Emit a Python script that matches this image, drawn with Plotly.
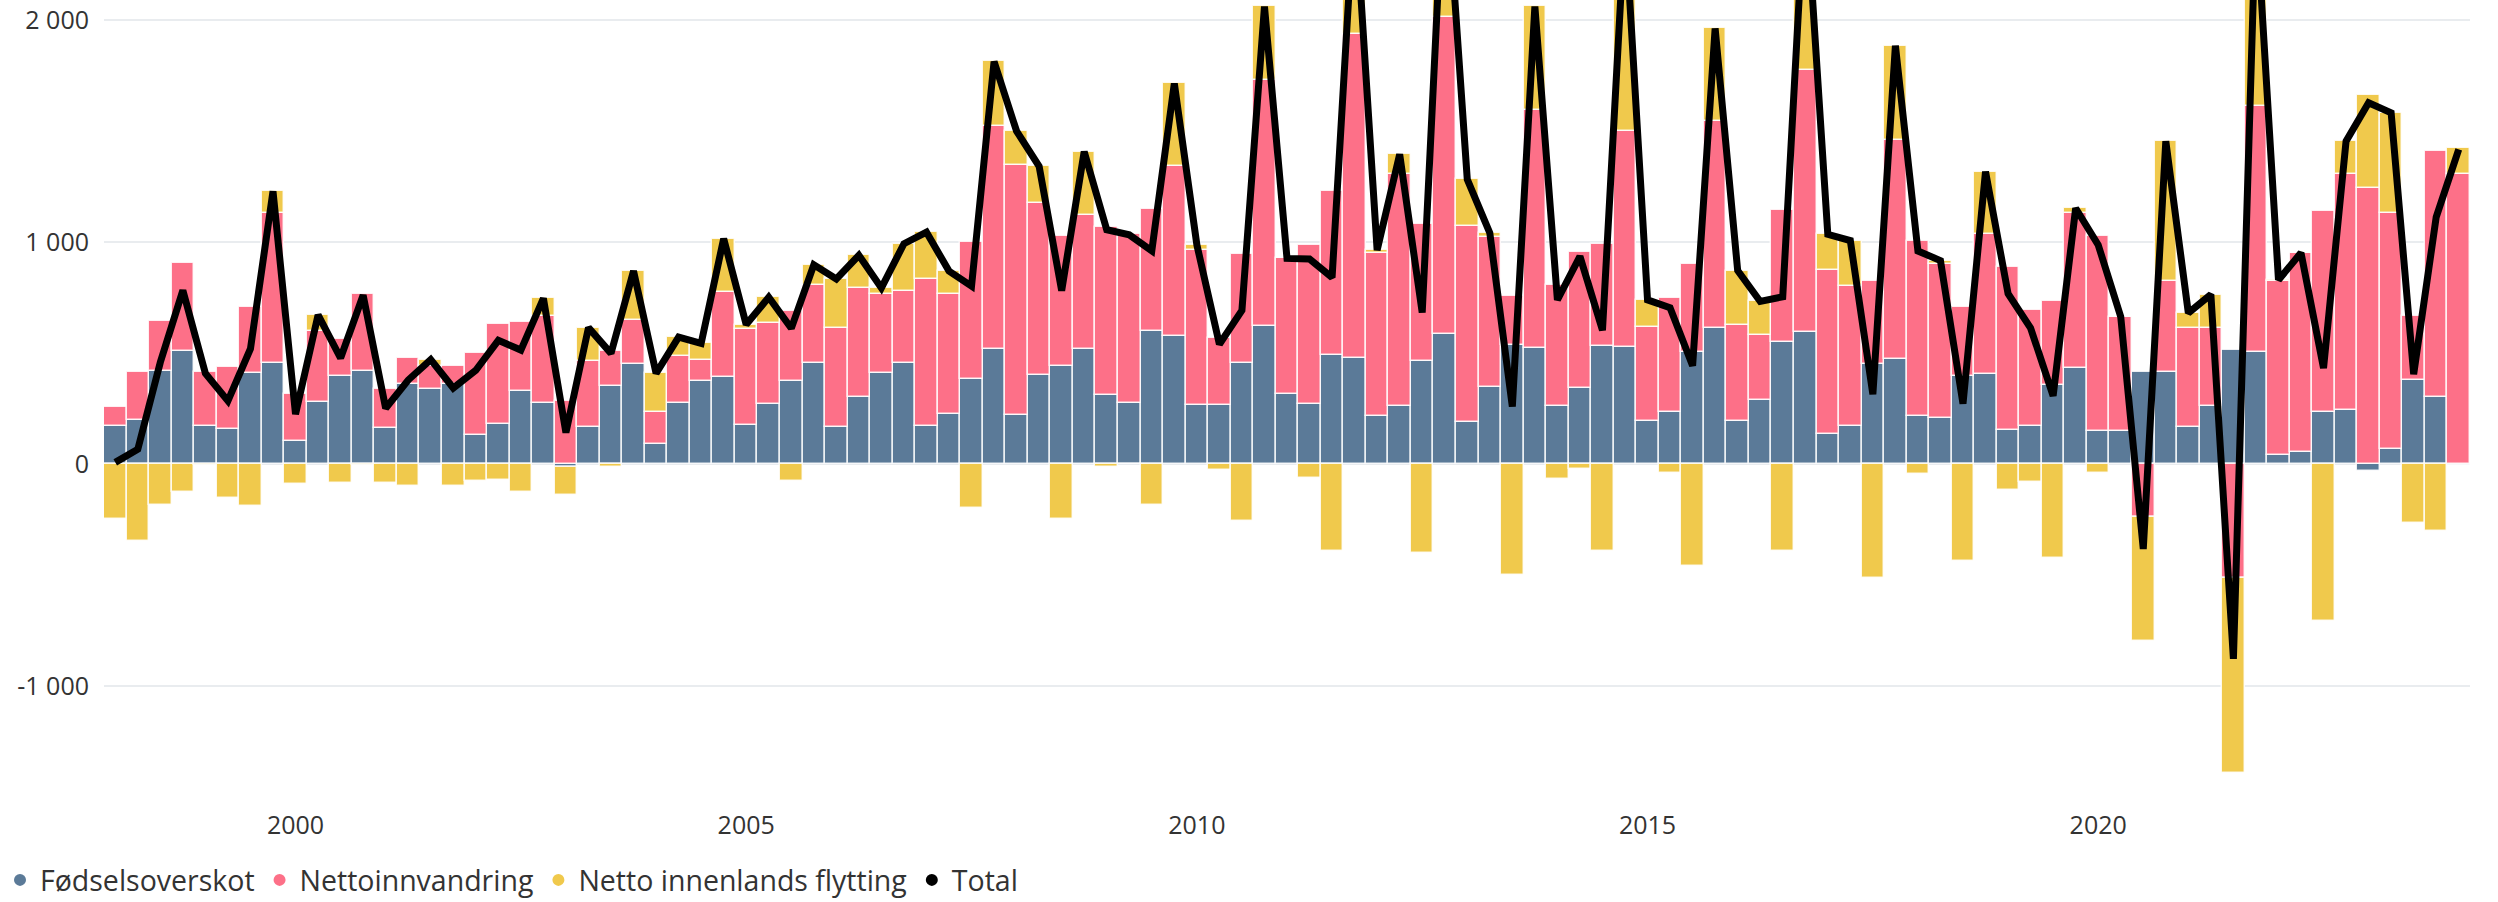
import plotly.graph_objects as go

# Quarterly periods from 1998 Q1 (position in decimal years at quarter start)
n_quarters = 105
quarters = [1998 + 0.25 * i for i in range(n_quarters)]

fodselsoverskot = [
    172, 196, 420, 508, 172, 156, 411, 453, 102, 279, 394, 418, 161,
    361, 338, 360, 132, 179, 328, 274, -12, 165, 352, 449, 90, 274,
    373, 390, 177, 272, 373, 453, 165, 302, 411, 453, 170, 227, 382,
    519, 222, 401, 439, 519, 312, 274, 600, 578, 267, 267, 453, 621,
    314, 272, 489, 477, 215, 260, 463, 586, 191, 345, 534, 522, 260, 342,
    531, 529, 194, 236, 503, 611, 194, 286, 548, 593, 137, 172, 451,
    472, 215, 208, 397, 404, 153, 172, 357, 432, 149, 149, 413, 413, 165,
    262, 515, 503, 42, 54, 236, 243, -33, 66, 380, 302, -7,
]

nettoinnvandring = [
    83, 217, 222, 399, 241, 281, 297, 676, 214, 318, 168, 349, 177,
    118, 105, 83, 368, 451, 312, 394, 283, 298, 158, 198, 146, 212,
    94, 384, 432, 361, 314, 352, 449, 491, 356, 326, 663, 540, 617,
    1004, 1124, 775, 590, 602, 755, 760, 547, 763, 696, 300, 494, 1110,
    612, 715, 741, 1461, 736, 1046, 618, 1428, 879, 677, 224, 1074, 545, 614,
    461, 970, 425, 510, 399, 935, 434, 297, 595, 1180, 737, 631, 375,
    987, 791, 692, 311, 630, 732, 520, 375, 697, 880, 514, -241, 409, 449,
    352, -512, 1110, 780, 897, 904, 1063, 1242, 1063, 288, 1110, 1306,
]

innenlands_flytting = [
    -248, -347, -184, -125, -5, -153, -189, 99, -92, 74, -85, -7, -87,
    -101, 27, -101, -78, -73, -127, 78, -130, 151, -12, 222, 172, 85,
    76, 241, 19, 118, -76, 92, 219, 147, 26, 213, 211, 102, -198,
    290, 153, 165, -248, 286, -12, -2, -187, 373, 24, -28, -255, 330,
    0, -64, -390, 612, 12, 89, -399, 736, 212, 19, -500, 465, -66, -21,
    -390, 950, 120, -42, -460, 416, 243, 149, -390, 827, 160, 203, -512,
    425, -47, 16, -437, 283, -118, -80, -425, 23, -42, 0, -555, 632, 66,
    149, -881, 887, 7, 0, -708, 148, 418, 453, -264, -300, 118,
]

total = [a + b + c for a, b, c in zip(fodselsoverskot, nettoinnvandring, innenlands_flytting)]

series_names = ["Fødselsoverskot", "Nettoinnvandring", "Netto innenlands flytting", "Total"]
colors = ["#5b7a98", "#fd7088", "#f0c94c", "#000000"]

x_tickvals = [2000, 2005, 2010, 2015, 2020]
x_ticktext = ["2000", "2005", "2010", "2015", "2020"]
y_tickvals = [-1000, 0, 1000, 2000]
y_ticktext = ["-1 000", "0", "1 000", "2 000"]

FONT = "Open Sans, Noto Sans, sans-serif"

fig = go.Figure()
for name, vals, col in zip(series_names[:3],
                           [fodselsoverskot, nettoinnvandring, innenlands_flytting],
                           colors[:3]):
    fig.add_trace(go.Bar(
        x=quarters, y=vals, name=name, width=0.25,
        marker=dict(color=col, line=dict(color="rgba(255,255,255,0.85)", width=1.5)),
        showlegend=False, legendgroup=name,
    ))

fig.add_trace(go.Scatter(
    x=quarters, y=total, name="Total", mode="lines",
    line=dict(color="#000000", width=7), showlegend=False, legendgroup="Total",
))

# legend entries with round markers
for name, col in zip(series_names, colors):
    fig.add_trace(go.Scatter(
        x=[None], y=[None], mode="markers", name=name, legendgroup=name,
        marker=dict(symbol="circle", size=15, color=col),
    ))

fig.update_layout(
    width=2498, height=902,
    barmode="relative", bargap=0,
    plot_bgcolor="white", paper_bgcolor="white",
    margin=dict(l=104, r=28, t=0, b=94),
    font=dict(family=FONT, size=25, color="#333333"),
    showlegend=True,
    legend=dict(
        orientation="h", xref="container", yref="container",
        x=0.0, y=0.024, xanchor="left", yanchor="middle",
        font=dict(size=28.5, color="#333333"), itemsizing="constant",
        bgcolor="rgba(0,0,0,0)", tracegroupgap=0,
    ),
    xaxis=dict(
        range=[1997.875, 2024.125], tickvals=x_tickvals, ticktext=x_ticktext,
        showgrid=False, zeroline=False, showline=False, ticks="",
        tickfont=dict(size=25, color="#333333"),
    ),
    yaxis=dict(
        range=[-1550, 2090], tickvals=y_tickvals, ticktext=y_ticktext,
        showgrid=True, gridcolor="#e9ecef", gridwidth=2,
        zeroline=False, showline=False, ticks="", ticklabelstandoff=14,
        tickfont=dict(size=25, color="#333333"),
    ),
)

fig.write_html("out.html", config={"displayModeBar": False},
               post_script="document.body.style.margin='0px';")
